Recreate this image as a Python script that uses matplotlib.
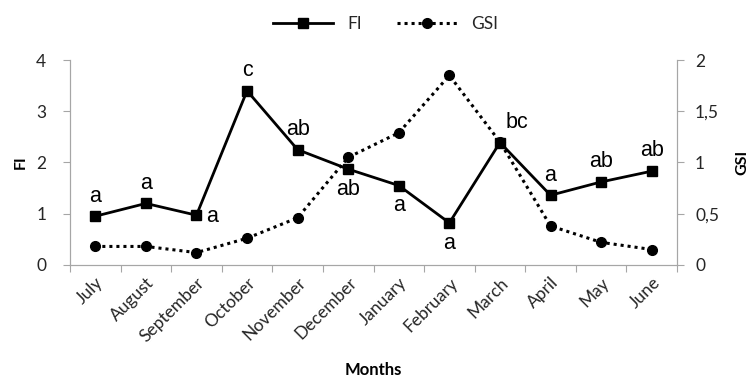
import numpy as np
import matplotlib
matplotlib.use('Agg')
import matplotlib.pyplot as plt
from matplotlib.lines import Line2D

# data
months = ['July', 'August', 'September', 'October', 'November', 'December',
          'January', 'February', 'March', 'April', 'May', 'June']
fi = [0.95, 1.20, 0.97, 3.40, 2.25, 1.87, 1.55, 0.82, 2.39, 1.36, 1.62, 1.83]
gsi = [0.18, 0.18, 0.12, 0.26, 0.46, 1.05, 1.29, 1.85, 1.20, 0.38, 0.22, 0.15]
letters = ['a', 'a', 'a', 'c', 'ab', 'ab', 'a', 'a', 'bc', 'a', 'ab', 'ab']
# where the letter sits relative to the FI point
where = ['up', 'up', 'right', 'up', 'up', 'down', 'down', 'down', 'upright',
         'up', 'up', 'up']

plt.rcParams['font.family'] = ['Lato', 'DejaVu Sans']
gray = '#a6a6a6'
txt = '#262626'

fig = plt.figure(figsize=(7.56, 3.85), dpi=100)
ax = fig.add_axes([0.0926, 0.312, 0.8029, 0.532])
ax2 = ax.twinx()

x = np.arange(len(months))
ax.plot(x, fi, color='black', lw=2, marker='s', ms=6.5, zorder=3)
ax2.plot(x, gsi, color='black', lw=2.2, ls=(0, (1, 1.3)), marker='o', ms=7,
         zorder=3)

ax.set_xlim(-0.5, len(months) - 0.5)
ax.set_ylim(0, 4)
ax2.set_ylim(0, 2)
ax.set_yticks([0, 1, 2, 3, 4])
ax2.set_yticks([0, 0.5, 1, 1.5, 2])
ax2.set_yticklabels(['0', '0,5', '1', '1,5', '2'])

# category boundaries get the tick marks, centres get the labels
ax.set_xticks(np.arange(-0.5, len(months), 1.0))
ax.set_xticklabels([])
ax.set_xticks(x, minor=True)
ax.set_xticklabels(months, minor=True, rotation=45, ha='right',
                   rotation_mode='anchor', fontsize=12.5, color=txt)
ax.tick_params(axis='x', which='minor', length=0, pad=7)
ax.tick_params(axis='x', which='major', length=5, color=gray, direction='out')
ax.tick_params(axis='y', length=5, color=gray, labelsize=12.5, labelcolor=txt,
               pad=12)
ax2.tick_params(axis='y', length=5, color=gray, labelsize=12.5, labelcolor=txt,
                pad=8)

for a in (ax, ax2):
    a.spines['top'].set_visible(False)
    for s in ('left', 'right', 'bottom'):
        a.spines[s].set_color(gray)

ax.set_ylabel('FI', fontsize=11.5, fontweight='bold', labelpad=6)
ax2.set_ylabel('GSI', fontsize=11.5, fontweight='bold', labelpad=12,
               rotation=90)
ax.set_xlabel('Months', fontsize=12, fontweight='bold', labelpad=12)

offs = {'up': ((0, 7), 'center', 'bottom'),
        'down': ((0, -7), 'center', 'top'),
        'right': ((7, -1), 'left', 'center'),
        'upright': ((12, 7), 'center', 'bottom')}
for xi, yi, lab, w in zip(x, fi, letters, where):
    (dx, dy), ha, va = offs[w]
    ax.annotate(lab, (xi, yi), xytext=(dx, dy), textcoords='offset points',
                ha=ha, va=va, fontsize=15.5, family='Liberation Sans',
                zorder=4)

handles = [Line2D([], [], color='black', lw=2, marker='s', ms=6.5),
           Line2D([], [], color='black', lw=2.2, ls=(0, (1, 1.3)),
                  marker='o', ms=7)]
fig.legend(handles, ['FI', 'GSI'], loc='upper center',
           bbox_to_anchor=(0.51, 1.0), ncol=2, frameon=False, fontsize=12.5,
           handlelength=3.5, columnspacing=2.0, labelcolor=txt)

fig.savefig('out.png', dpi=100)
